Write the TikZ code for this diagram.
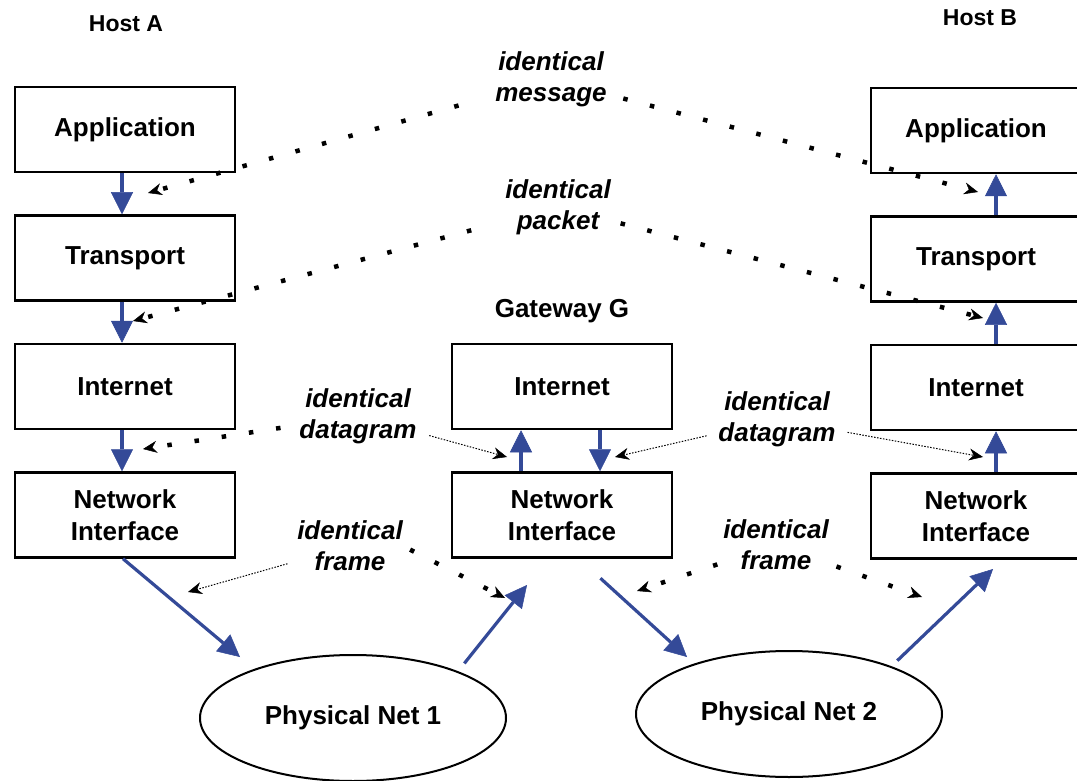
\documentclass[tikz,border=0pt]{standalone}
\usepackage{fontspec}
\setmainfont{Liberation Sans}
\usetikzlibrary{arrows.meta,shapes.geometric}
\definecolor{flowblue}{RGB}{52,74,152}

\begin{document}
\begin{tikzpicture}[x=1pt, y=-1pt, node distance=128.5pt,
    layer node/.style={rectangle,draw,line width=2.5pt,minimum width=220pt,minimum height=85pt,align=center,font=\fontsize{26}{32}\selectfont\bfseries},
    net node/.style={ellipse,draw,line width=2pt,minimum width=306pt,minimum height=126pt,inner sep=0pt,font=\fontsize{26}{32}\selectfont\bfseries},
    host label/.style={font=\fontsize{23}{28}\selectfont\bfseries},
    same label/.style={align=center,inner sep=0pt,font=\fontsize{26}{31}\selectfont\bfseries\itshape},
    flow/.style={color=flowblue,line width=3.2pt,-{Triangle[length=22pt,width=22pt,line width=0.5pt]}},
    peer/.style={line width=4.5pt,dash pattern=on 4.5pt off 23pt,-{Stealth[length=14pt,width=12pt,line width=0.5pt]}},
    peer thin/.style={line width=1pt,dash pattern=on 1.5pt off 1.5pt,-{Stealth[length=14pt,width=12pt,line width=0.5pt]}}]

  \useasboundingbox (0,0) rectangle (1077,781);

  % host A
  \node[host label] (hA) at (126,24) {Host A};
  \node[layer node] (a1) at (125,129.5) {Application};
  \node[layer node] (a2) [below of=a1] {Transport};
  \node[layer node] (a3) [below of=a2] {Internet};
  \node[layer node] (a4) [below of=a3] {Network\\Interface};

  % gateway
  \node[font=\fontsize{26}{32}\selectfont\bfseries] (gw) at (562,311) {Gateway G};
  \node[layer node] (g1) at (562,386.5) {Internet};
  \node[layer node] (g2) [below of=g1] {Network\\Interface};

  % host B
  \node[host label] (hB) at (980,18) {Host B};
  \node[layer node,minimum width=210pt] (b1) at (976,130.5) {Application};
  \node[layer node,minimum width=210pt] (b2) [below of=b1] {Transport};
  \node[layer node,minimum width=210pt] (b3) [below of=b2] {Internet};
  \node[layer node,minimum width=210pt] (b4) [below of=b3] {Network\\Interface};

  \node[net node] (n1) at (353,718) {Physical Net 1};
  \node[net node] (n2) at (789,714) {Physical Net 2};

  \node[same label] (msg) at (551,79.5) {identical\\message};
  \node[same label] (pkt) at (558,207) {identical\\packet};
  \node[same label] (dgl) at (358,416) {identical\\datagram};
  \node[same label] (dgr) at (777,419.5) {identical\\datagram};
  \node[same label] (frl) at (350,546) {identical\\frame};
  \node[same label] (frr) at (776,545) {identical\\frame};

  \coordinate (t1) at (240,657);
  \coordinate (t2) at (527,585);
  \coordinate (t3) at (687,657);
  \coordinate (t4) at (993,569);

  \coordinate (m1) at (148,193);
  \coordinate (m2) at (978,192);
  \coordinate (p1) at (133,321);
  \coordinate (p2) at (983,318);
  \coordinate (d1) at (143,449);
  \coordinate (d2) at (507,457);
  \coordinate (d3) at (615,457);
  \coordinate (d4) at (983,457);
  \coordinate (f1) at (188,592);
  \coordinate (f2) at (505,598);
  \coordinate (f3) at (637,591);
  \coordinate (f4) at (922,597);

  \path[flow]
    ([xshift=-3pt]a1.south) edge ([xshift=-3pt]a2.north)
    ([xshift=-3pt]a2.south) edge ([xshift=-3pt]a3.north)
    ([xshift=-3pt]a3.south) edge ([xshift=-3pt]a4.north)
    ([xshift=-2pt]a4.south) edge (t1)
    (n1.24) edge[shorten <=10pt] (t2)
    ([xshift=-41pt]g2.north) edge ([xshift=-41pt]g1.south)
    ([xshift=38pt]g1.south) edge ([xshift=38pt]g2.north)
    ([xshift=17pt]g2.south) edge[shorten <=29pt] (t3)
    (n2.25) edge[shorten <=8pt] (t4)
    ([xshift=20pt]b4.north) edge ([xshift=20pt]b3.south)
    ([xshift=20pt]b3.north) edge ([xshift=20pt]b2.south)
    ([xshift=20pt]b2.north) edge ([xshift=20pt]b1.south);

  \path[peer]
    (msg) edge[shorten <=38pt] (m1)
          edge[shorten <=17pt] (m2)
    (pkt) edge[shorten <=35pt] (p1)
          edge[shorten <=10pt] (p2)
    (dgl) edge[shorten <=19pt] (d1)
    (frl.east) edge[shorten <=8pt] (f2)
    (frr) edge[shorten <=6pt] (f3)
          edge[shorten <=8pt] (f4);

  \path[peer thin]
    (dgl) edge[shorten <=13pt] (d2)
    (dgr) edge[shorten <=12pt] (d3)
          edge[shorten <=12pt] (d4)
    (frl) edge[shorten <=10pt] (f1);

\end{tikzpicture}
\end{document}
